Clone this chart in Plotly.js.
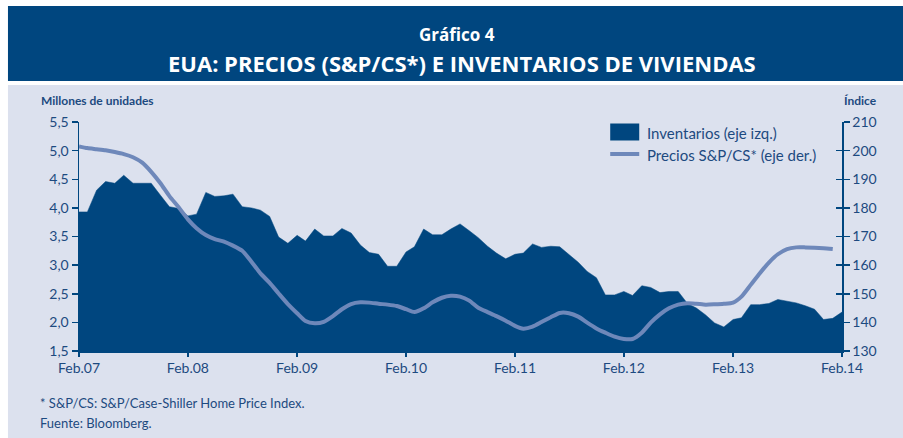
<!DOCTYPE html>
<html><head><meta charset="utf-8">
<script src="https://cdn.plot.ly/plotly-3.0.1.min.js"></script>
<style>html,body{margin:0;padding:0;background:#fff;}#chart{width:903px;height:438px;}</style>
</head><body><div id="chart"></div>
<script>
// Monthly data, Feb 2007 .. Feb 2014
var startYear = 2007, startMonth = 2;
var inventarios = [3.93,3.93,4.31,4.46,4.43,4.57,4.43,4.43,4.43,4.22,4.02,3.99,3.86,3.89,4.27,4.20,4.21,4.24,4.02,4.00,3.96,3.85,3.49,3.38,3.52,3.42,3.63,3.51,3.51,3.64,3.56,3.35,3.22,3.19,2.98,2.98,3.23,3.32,3.63,3.53,3.53,3.63,3.72,3.60,3.48,3.33,3.21,3.11,3.19,3.21,3.37,3.31,3.33,3.32,3.18,3.05,2.89,2.78,2.48,2.48,2.54,2.47,2.64,2.61,2.52,2.54,2.54,2.33,2.25,2.13,1.99,1.92,2.05,2.08,2.31,2.31,2.33,2.40,2.37,2.34,2.29,2.23,2.05,2.07,2.18];
var precios = [201.5,200.9,200.5,200.1,199.5,198.8,197.7,195.8,192.6,188.6,184.1,180.2,176.0,172.9,170.5,169.1,168.2,166.8,165.0,161.2,157.1,153.8,150.1,146.4,143.2,140.5,139.7,140.2,142.2,144.6,146.4,147.0,146.9,146.5,146.2,145.7,144.6,143.6,144.9,147.0,148.6,149.3,149.0,147.6,145.1,143.6,142.2,140.6,138.8,137.8,138.5,140.1,141.8,143.3,143.2,142.0,139.9,137.9,136.4,135.0,134.2,134.2,136.4,139.9,142.8,144.9,146.2,146.7,146.5,146.2,146.3,146.5,146.9,149.0,153.1,157.1,160.9,163.8,165.6,166.2,166.2,166.1,165.9,165.6];
var xTickVals = ["2007-02-01","2008-02-01","2009-02-01","2010-02-01","2011-02-01","2012-02-01","2013-02-01","2014-02-01"];
var xTickText = ["Feb.07","Feb.08","Feb.09","Feb.10","Feb.11","Feb.12","Feb.13","Feb.14"];
var yLeftTicks = [1.5,2.0,2.5,3.0,3.5,4.0,4.5,5.0,5.5];
var yRightTicks = [130,140,150,160,170,180,190,200,210];

function monthDate(i){
  var m = startMonth - 1 + i;
  var y = startYear + Math.floor(m/12);
  var mm = (m % 12) + 1;
  return y + "-" + (mm<10?"0":"") + mm + "-01";
}
var datesInv = inventarios.map(function(_,i){return monthDate(i);});
var datesPre = precios.map(function(_,i){return monthDate(i);});

var DARK = "#00467f", LINE = "#6e88ba", TXT = "#1d4a80", PANEL = "#dce1ee";
var FONT = "Lato, 'Open Sans', sans-serif";
var TFONT = "'Open Sans', Lato, sans-serif";

// plot area in pixels
var L = 79, R = 841.7, T = 122, B = 351, W = 903, H = 438;
function px(x){return (x-L)/(R-L);}
function py(y){return (B-y)/(B-T);}

var traces = [
  {x: datesInv, y: inventarios, type:"scatter", mode:"lines", fill:"tozeroy",
   fillcolor: DARK, line:{color:DARK, width:0.5}, name:"Inventarios (eje izq.)", xaxis:"x", yaxis:"y", hoverinfo:"skip"},
  {x: datesPre, y: precios, type:"scatter", mode:"lines",
   line:{color:LINE, width:4, shape:"spline", smoothing:0.6}, name:"Precios S&P/CS* (eje der.)", xaxis:"x", yaxis:"y2", hoverinfo:"skip"}
];

var axisCommon = {showgrid:false, zeroline:false, showline:true, linecolor:DARK, linewidth:1.5,
  tickcolor:DARK, tickwidth:1.5, tickfont:{family:FONT, size:14, color:TXT}, fixedrange:true};

var layout = {
  width: W, height: H,
  margin:{l:L, r:W-R, t:T, b:H-B, pad:0},
  paper_bgcolor:"#ffffff", plot_bgcolor:"rgba(0,0,0,0)",
  showlegend:false,
  separators:", ",
  xaxis: Object.assign({}, axisCommon, {type:"date", range:["2007-02-01","2014-02-01"],
    tickmode:"array", tickvals:xTickVals, ticktext:xTickText, ticks:"outside", ticklen:4}),
  yaxis: Object.assign({}, axisCommon, {range:[1.5,5.5], tickmode:"array", tickvals:yLeftTicks,
    tickformat:".1f", ticks:"outside", ticklen:6}),
  yaxis2: Object.assign({}, axisCommon, {range:[130,210], overlaying:"y", side:"right", anchor:"x",
    tickmode:"array", tickvals:yRightTicks, ticks:"outside", ticklen:6}),
  yaxis3: {range:[130,210], overlaying:"y", side:"right", anchor:"x", tickmode:"array", tickvals:yRightTicks,
    ticks:"inside", ticklen:6, tickcolor:DARK, tickwidth:1.5, showticklabels:false, showline:false,
    showgrid:false, zeroline:false, fixedrange:true},
  shapes:[
    {type:"rect", xref:"paper", yref:"paper", x0:px(8), x1:px(W), y0:py(6), y1:py(81), fillcolor:DARK, line:{width:0}, layer:"below"},
    {type:"rect", xref:"paper", yref:"paper", x0:px(8), x1:px(W), y0:py(85), y1:py(H), fillcolor:PANEL, line:{width:0}, layer:"below"},
    {type:"rect", xref:"paper", yref:"paper", x0:px(610), x1:px(639), y0:py(123.5), y1:py(140.5), fillcolor:DARK, line:{width:0}},
    {type:"line", xref:"paper", yref:"paper", x0:px(610), x1:px(639), y0:py(154), y1:py(154), line:{color:LINE, width:4}}
  ],
  annotations:[
    {xref:"paper", yref:"paper", x:px(457), y:py(34.5), text:"<b>Gráfico 4</b>", showarrow:false, xanchor:"center", yanchor:"middle",
     font:{family:TFONT, size:17, color:"#ffffff"}},
    {xref:"paper", yref:"paper", x:px(462), y:py(62.5), text:"<b>EUA: PRECIOS (S&P/CS*) E INVENTARIOS DE VIVIENDAS</b>", showarrow:false, xanchor:"center", yanchor:"middle",
     font:{family:TFONT, size:22, color:"#ffffff"}},
    {xref:"paper", yref:"paper", x:px(39), y:py(100.5), text:"<b>Millones de unidades</b>", showarrow:false, xanchor:"left", yanchor:"middle",
     font:{family:FONT, size:12, color:TXT}},
    {xref:"paper", yref:"paper", x:px(879), y:py(100.5), text:"<b>Índice</b>", showarrow:false, xanchor:"right", yanchor:"middle",
     font:{family:FONT, size:12, color:TXT}},
    {xref:"paper", yref:"paper", x:px(645), y:py(132.5), text:"Inventarios (eje izq.)", showarrow:false, xanchor:"left", yanchor:"middle",
     font:{family:FONT, size:15, color:TXT}},
    {xref:"paper", yref:"paper", x:px(645), y:py(155), text:"Precios S&P/CS* (eje der.)", showarrow:false, xanchor:"left", yanchor:"middle",
     font:{family:FONT, size:15, color:TXT}},
    {xref:"paper", yref:"paper", x:px(38), y:py(402.5), text:"* S&P/CS: S&P/Case-Shiller Home Price Index.", showarrow:false, xanchor:"left", yanchor:"middle",
     font:{family:FONT, size:13, color:TXT}},
    {xref:"paper", yref:"paper", x:px(38), y:py(422.5), text:"Fuente: Bloomberg.", showarrow:false, xanchor:"left", yanchor:"middle",
     font:{family:FONT, size:13, color:TXT}}
  ]
};
traces.push({x:[datesPre[0]], y:[precios[0]], type:"scatter", mode:"none", xaxis:"x", yaxis:"y3", hoverinfo:"skip", showlegend:false});
Plotly.newPlot("chart", traces, layout, {staticPlot:true, displayModeBar:false});
</script></body></html>
